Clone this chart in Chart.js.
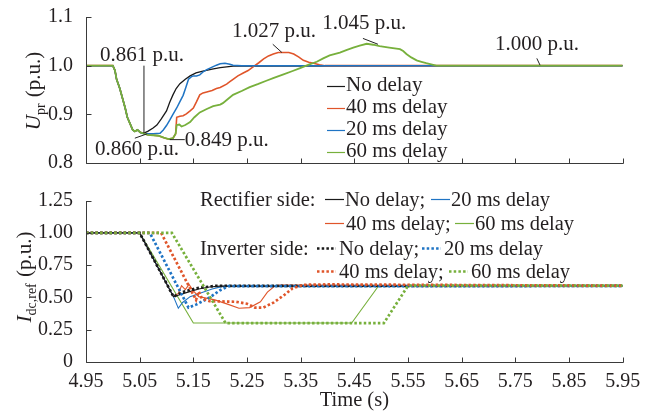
<!DOCTYPE html>
<html><head><meta charset="utf-8">
<script src="https://cdn.jsdelivr.net/npm/chart.js@4.4.0/dist/chart.umd.min.js"></script>
<style>
html,body{margin:0;padding:0;background:#fff;}
#wrap{position:relative;width:654px;height:417px;overflow:hidden;}
canvas{position:absolute;left:0;}
#c1{top:0;width:654px;height:180px;}
#c2{top:180px;width:654px;height:237px;}
</style></head><body>
<div id="wrap">
<canvas id="c1" width="654" height="180"></canvas>
<canvas id="c2" width="654" height="237"></canvas>
</div>
<script>
// ---------------- data ----------------
const xTicks = [4.95,5.05,5.15,5.25,5.35,5.45,5.55,5.65,5.75,5.85,5.95];
const xTickLabels = ['4.95','5.05','5.15','5.25','5.35','5.45','5.55','5.65','5.75','5.85','5.95'];
const uTicks = [0.8,0.9,1.0,1.1];
const uTickLabels = ['0.8','0.9','1.0','1.1'];
const iTicks = [0,0.25,0.5,0.75,1.0,1.25];
const iTickLabels = ['0','0.25','0.50','0.75','1.00','1.25'];
const seriesNames = ['No delay','40 ms delay','20 ms delay','60 ms delay'];

// U_pr (top panel) [time, p.u.]
const uprNoDelay = [[4.95,1.0],[5.0,1.0],[5.004,0.99],[5.007,0.972],[5.013,0.953],[5.018,0.933],[5.023,0.913],[5.027,0.894],[5.032,0.881],[5.037,0.868],[5.041,0.865],[5.046,0.868],[5.051,0.863],[5.057,0.861],[5.065,0.865],[5.075,0.872],[5.082,0.878],[5.09,0.89],[5.10,0.907],[5.106,0.925],[5.112,0.94],[5.118,0.953],[5.125,0.963],[5.135,0.972],[5.144,0.979],[5.155,0.985],[5.168,0.989],[5.185,0.993],[5.2,0.996],[5.224,0.999],[5.95,1.0]];
const upr40 = [[4.95,1.0],[5.0,1.0],[5.004,0.99],[5.007,0.972],[5.013,0.953],[5.018,0.933],[5.023,0.913],[5.027,0.894],[5.032,0.881],[5.037,0.868],[5.041,0.865],[5.046,0.868],[5.051,0.863],[5.057,0.861],[5.065,0.858],[5.075,0.857],[5.085,0.856],[5.095,0.852],[5.104,0.849],[5.112,0.851],[5.117,0.86],[5.119,0.894],[5.125,0.896],[5.131,0.897],[5.137,0.901],[5.144,0.907],[5.15,0.913],[5.156,0.926],[5.162,0.94],[5.168,0.944],[5.175,0.946],[5.185,0.949],[5.193,0.953],[5.2,0.955],[5.212,0.962],[5.218,0.967],[5.224,0.972],[5.233,0.979],[5.243,0.985],[5.252,0.99],[5.262,0.998],[5.272,1.006],[5.281,1.014],[5.29,1.02],[5.299,1.024],[5.308,1.027],[5.318,1.027],[5.328,1.027],[5.337,1.024],[5.346,1.018],[5.355,1.011],[5.365,1.007],[5.374,1.005],[5.385,1.002],[5.395,1.0],[5.95,1.0]];
const upr20 = [[4.95,1.0],[5.0,1.0],[5.004,0.99],[5.007,0.972],[5.013,0.953],[5.018,0.933],[5.023,0.913],[5.027,0.894],[5.032,0.881],[5.037,0.868],[5.041,0.865],[5.046,0.868],[5.051,0.863],[5.057,0.860],[5.065,0.860],[5.075,0.860],[5.088,0.861],[5.094,0.868],[5.1,0.877],[5.106,0.888],[5.112,0.9],[5.119,0.913],[5.125,0.926],[5.131,0.939],[5.136,0.955],[5.141,0.972],[5.146,0.977],[5.15,0.979],[5.156,0.979],[5.162,0.981],[5.168,0.987],[5.175,0.992],[5.185,0.997],[5.193,1.001],[5.2,1.004],[5.209,1.005],[5.218,1.003],[5.224,1.001],[5.24,1.0],[5.95,1.0]];
const upr60 = [[4.95,1.0],[5.0,1.0],[5.004,0.99],[5.007,0.972],[5.013,0.953],[5.018,0.933],[5.023,0.913],[5.027,0.894],[5.032,0.881],[5.037,0.868],[5.041,0.865],[5.046,0.868],[5.051,0.863],[5.057,0.861],[5.065,0.858],[5.075,0.857],[5.085,0.856],[5.095,0.852],[5.104,0.849],[5.112,0.851],[5.117,0.86],[5.119,0.878],[5.124,0.879],[5.128,0.875],[5.135,0.878],[5.144,0.884],[5.152,0.894],[5.162,0.904],[5.175,0.911],[5.187,0.917],[5.2,0.92],[5.205,0.923],[5.215,0.932],[5.224,0.94],[5.24,0.948],[5.255,0.956],[5.27,0.962],[5.286,0.969],[5.3,0.975],[5.318,0.982],[5.335,0.989],[5.349,0.995],[5.365,1.002],[5.38,1.008],[5.392,1.015],[5.404,1.021],[5.423,1.027],[5.435,1.032],[5.448,1.037],[5.46,1.041],[5.473,1.045],[5.485,1.043],[5.497,1.04],[5.515,1.037],[5.535,1.034],[5.541,1.03],[5.547,1.024],[5.556,1.017],[5.566,1.011],[5.575,1.008],[5.584,1.005],[5.595,1.002],[5.603,1.0],[5.95,1.0]];

// I_dc,ref (bottom panel) [time, p.u.]
const idcRectNoDelay = [[4.95,1],[5.05,1],[5.113,0.505],[5.125,0.52],[5.14,0.54],[5.16,0.565],[5.18,0.58],[5.2,0.587],[5.95,0.588]];
const idcRect20 = [[4.95,1],[5.05,1],[5.113,0.505],[5.122,0.415],[5.13,0.46],[5.144,0.505],[5.165,0.535],[5.185,0.565],[5.205,0.585],[5.95,0.588]];
const idcRect40 = [[4.95,1],[5.05,1],[5.113,0.505],[5.122,0.53],[5.128,0.59],[5.135,0.56],[5.142,0.6],[5.15,0.55],[5.16,0.505],[5.19,0.48],[5.215,0.445],[5.235,0.415],[5.255,0.42],[5.275,0.465],[5.288,0.54],[5.3,0.582],[5.31,0.595],[5.95,0.59]];
const idcRect60 = [[4.95,1],[5.05,1],[5.15,0.3],[5.445,0.3],[5.495,0.588],[5.95,0.588]];
const idcInvNoDelay = [[4.95,1],[5.05,1],[5.113,0.505],[5.13,0.54],[5.155,0.57],[5.19,0.588],[5.95,0.588]];
const idcInv20 = [[4.95,1],[5.069,1],[5.141,0.42],[5.156,0.445],[5.181,0.5],[5.2,0.555],[5.215,0.586],[5.95,0.588]];
const idcInv40 = [[4.95,1],[5.09,1],[5.15,0.52],[5.155,0.48],[5.16,0.545],[5.166,0.49],[5.18,0.47],[5.23,0.465],[5.25,0.45],[5.265,0.42],[5.28,0.42],[5.3,0.46],[5.32,0.52],[5.335,0.57],[5.355,0.597],[5.4,0.6],[5.95,0.59]];
const idcInv60 = [[4.95,1],[5.11,1],[5.21,0.3],[5.505,0.3],[5.55,0.59],[5.95,0.59]];

// annotations on top panel: [label, textT, textU, lineFromT, lineFromU, lineToT, lineToU]
const uprNotes = [
  ['0.861 p.u.', 4.976, 1.021, 5.058, 1.0, 5.058, 0.861],
  ['0.860 p.u.', 4.967, 0.828, 5.041, 0.851, 5.064, 0.860],
  ['0.849 p.u.', 5.134, 0.847, 5.106, 0.848, 5.134, 0.848],
  ['1.027 p.u.', 5.222, 1.070, 5.298, 1.044, 5.315, 1.027],
  ['1.045 p.u.', 5.390, 1.086, 5.466, 1.056, 5.494, 1.044],
  ['1.000 p.u.', 5.712, 1.043, 5.790, 1.015, 5.796, 1.001]
];

// ---------------- style ----------------
const FONT = '"Liberation Serif", "Times New Roman", Times, serif';
const TXT = '#231f20';
const AX = '#3a3a3a';
const C_BLACK = '#1a1a1a', C_ORANGE = '#e0552a', C_BLUE = '#1f74c4', C_GREEN = '#77b03c';
const pts = a => a.map(p => ({x: p[0], y: p[1]}));

const axesPlugin = {
  id: 'axesPlugin',
  afterDraw(chart) {
    const {ctx, chartArea: a, scales: {x, y}} = chart;
    ctx.save();
    ctx.strokeStyle = AX; ctx.lineWidth = 1;
    ctx.beginPath();
    const L = Math.round(a.left) + 0.5, B = Math.round(a.bottom) + 0.5;
    ctx.moveTo(L, Math.round(a.top)); ctx.lineTo(L, B); ctx.lineTo(Math.round(a.right) + 0.5, B);
    x.ticks.forEach(t => { const px = Math.round(x.getPixelForValue(t.value)) + 0.5; ctx.moveTo(px, B); ctx.lineTo(px, B - 5); });
    y.ticks.forEach(t => { const py = Math.round(y.getPixelForValue(t.value)) + 0.5; ctx.moveTo(L, py); ctx.lineTo(L + 5, py); });
    ctx.stroke();
    ctx.restore();
  }
};

function drawRotTitle(ctx, baseX, centerY, main, sub, rest) {
  ctx.save();
  ctx.fillStyle = TXT;
  const fMain = 'italic 21px ' + FONT, fSub = '14px ' + FONT, fRest = '21px ' + FONT;
  ctx.font = fMain; const w1 = ctx.measureText(main).width;
  ctx.font = fSub; const w2 = ctx.measureText(sub).width;
  ctx.font = fRest; const w3 = ctx.measureText(rest).width;
  const total = w1 + w2 + 1 + w3;
  ctx.translate(baseX, centerY);
  ctx.rotate(-Math.PI / 2);
  ctx.textBaseline = 'alphabetic'; ctx.textAlign = 'left';
  let x0 = -total / 2;
  ctx.font = fMain; ctx.fillText(main, x0, 0); x0 += w1;
  ctx.font = fSub; ctx.fillText(sub, x0, 5); x0 += w2 + 1;
  ctx.font = fRest; ctx.fillText(rest, x0, 0);
  ctx.restore();
}

function baseOptions(yMin, yMax, yTicks, yLabels, showX, padTop, xHeight) {
  return {
    responsive: false, animation: false, devicePixelRatio: 1,
    layout: {padding: {top: padTop, right: 654 - 622.7, left: 0, bottom: 0}},
    plugins: {legend: {display: false}, tooltip: {enabled: false}},
    elements: {point: {radius: 0}, line: {tension: 0}},
    scales: {
      x: {
        type: 'linear', min: 4.95, max: 5.95,
        grid: {display: false}, border: {display: false},
        afterBuildTicks: s => { s.ticks = xTicks.map(v => ({value: v})); },
        afterFit: s => { s.height = xHeight; },
        ticks: {display: showX, padding: 0, color: TXT, font: {family: FONT, size: 20},
          maxRotation: 0, autoSkip: false,
          callback: (v) => { const i = xTicks.findIndex(t => Math.abs(t - v) < 1e-6); return i >= 0 ? xTickLabels[i] : ''; }}
      },
      y: {
        type: 'linear', min: yMin, max: yMax,
        grid: {display: false}, border: {display: false},
        afterBuildTicks: s => { s.ticks = yTicks.map(v => ({value: v})); },
        afterFit: s => { s.width = 86; },
        ticks: {padding: 5, color: TXT, font: {family: FONT, size: 20}, autoSkip: false,
          callback: (v) => { const i = yTicks.findIndex(t => Math.abs(t - v) < 1e-6); return i >= 0 ? yLabels[i] : ''; }}
      }
    }
  };
}

function build() {
  // ---------------- top chart ----------------
  const topColors = [C_BLACK, C_ORANGE, C_BLUE, C_GREEN];
  const topData = [uprNoDelay, upr40, upr20, upr60];
  const topOrder = [3, 2, 1, 0];
  const topWidths = [1.3, 1.6, 1.5, 1.8];

  const topDecor = {
    id: 'topDecor',
    afterDraw(chart) {
      const {ctx, scales: {x, y}} = chart;
      ctx.save();
      ctx.font = '21px ' + FONT; ctx.fillStyle = TXT; ctx.textBaseline = 'middle'; ctx.textAlign = 'left';
      ctx.strokeStyle = '#222'; ctx.lineWidth = 1;
      uprNotes.forEach(n => {
        ctx.fillText(n[0], x.getPixelForValue(n[1]), y.getPixelForValue(n[2]));
        ctx.beginPath();
        ctx.moveTo(x.getPixelForValue(n[3]), y.getPixelForValue(n[4]));
        ctx.lineTo(x.getPixelForValue(n[5]), y.getPixelForValue(n[6]));
        ctx.stroke();
      });
      const lx = 327, rowsY = [86, 108, 130, 152];
      seriesNames.forEach((nm, i) => {
        ctx.strokeStyle = topColors[i]; ctx.lineWidth = 1.2;
        ctx.beginPath(); ctx.moveTo(lx, rowsY[i] + 0.5); ctx.lineTo(lx + 18, rowsY[i] + 0.5); ctx.stroke();
        ctx.fillStyle = TXT; ctx.font = '21px ' + FONT; ctx.textBaseline = 'middle';
        ctx.fillText(nm, lx + 19, rowsY[i] - 1);
      });
      drawRotTitle(ctx, 40, 91, 'U', 'pr', ' (p.u.)');
      ctx.restore();
    }
  };

  new Chart(document.getElementById('c1'), {
    type: 'line',
    data: {datasets: topData.map((d, i) => ({
      label: seriesNames[i], data: pts(d), parsing: false,
      borderColor: topColors[i], borderWidth: topWidths[i], pointRadius: 0, fill: false, order: topOrder[i]
    }))},
    options: baseOptions(0.8, 1.1, uTicks, uTickLabels, false, 15, 180 - 168.3),
    plugins: [axesPlugin, topDecor]
  });

  // ---------------- bottom chart ----------------
  const botColors = [C_BLACK, C_BLUE, C_ORANGE, C_GREEN];
  const botNames = ['No delay', '20 ms delay', '40 ms delay', '60 ms delay'];
  const rectData = [idcRectNoDelay, idcRect20, idcRect40, idcRect60];
  const invData = [idcInvNoDelay, idcInv20, idcInv40, idcInv60];

  const botDecor = {
    id: 'botDecor',
    afterDraw(chart) {
      const {ctx, chartArea: a} = chart;
      ctx.save();
      ctx.fillStyle = TXT; ctx.textBaseline = 'alphabetic'; ctx.textAlign = 'left';
      const f = '20.5px ' + FONT;
      const sample = (x0, yb, col, dotted) => {
        ctx.save();
        ctx.strokeStyle = col;
        if (dotted) { ctx.lineWidth = 2.7; ctx.setLineDash([2.5, 2.2]); } else { ctx.lineWidth = 1.2; }
        ctx.beginPath(); ctx.moveTo(x0, yb - 6.5); ctx.lineTo(x0 + 19, yb - 6.5); ctx.stroke();
        ctx.restore();
      };
      const text = (s, x0, yb) => { ctx.font = f; ctx.fillStyle = TXT; ctx.fillText(s, x0, yb); };
      const r1 = 26, r2 = 50, r3 = 75, r4 = 98;
      text('Rectifier side:', 200, r1);
      sample(325, r1, botColors[0], false); text(botNames[0] + ';', 345, r1);
      sample(431, r1, botColors[1], false); text(botNames[1], 451, r1);
      sample(325, r2, botColors[2], false); text(botNames[2] + ';', 346, r2);
      sample(455, r2, botColors[3], false); text(botNames[3], 475, r2);
      text('Inverter side:', 200, r3);
      sample(317, r3, botColors[0], true); text(botNames[0] + ';', 339, r3);
      sample(422, r3, botColors[1], true); text(botNames[1], 444, r3);
      sample(317, r4, botColors[2], true); text(botNames[2] + ';', 339, r4);
      sample(449, r4, botColors[3], true); text(botNames[3], 471, r4);
      ctx.font = '20.5px ' + FONT; ctx.textAlign = 'center'; ctx.textBaseline = 'alphabetic';
      ctx.fillText('Time (s)', (a.left + a.right) / 2, 226);
      drawRotTitle(ctx, 31, 97, 'I', 'dc,ref', ' (p.u.)');
      ctx.restore();
    }
  };

  const botSets = [];
  rectData.forEach((d, i) => botSets.push({label: 'Rectifier ' + botNames[i], data: pts(d), parsing: false,
    borderColor: botColors[i], borderWidth: 1.1, pointRadius: 0, fill: false, order: 10 + i}));
  invData.forEach((d, i) => botSets.push({label: 'Inverter ' + botNames[i], data: pts(d), parsing: false,
    borderColor: botColors[i], borderWidth: 2.7, borderDash: [2.5, 2.2], pointRadius: 0, fill: false, order: 4 - i}));

  new Chart(document.getElementById('c2'), {
    type: 'line',
    data: {datasets: botSets},
    options: baseOptions(0, 1.25, iTicks, iTickLabels, true, 200.7 - 180, 237 - 181.7),
    plugins: [axesPlugin, botDecor]
  });
}

Promise.all([
  document.fonts.load('20px "Liberation Serif"'),
  document.fonts.load('italic 20px "Liberation Serif"')
]).catch(() => {}).then(build);
</script>
</body></html>
